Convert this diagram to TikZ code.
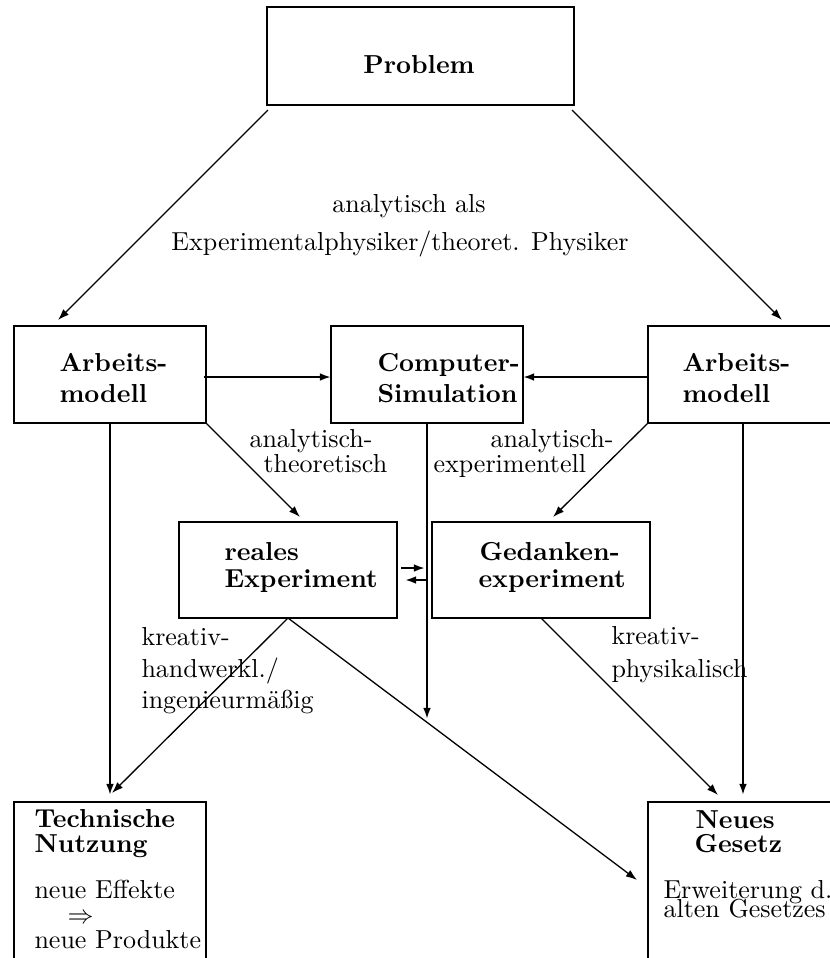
\documentclass[tikz,border=0pt]{standalone}
\usepackage{fontspec}
\usetikzlibrary{arrows.meta,calc,fit}
\begin{document}
\begin{tikzpicture}[x=0.3846pt,y=-0.3846pt,
  box/.style={draw,line width=0.8pt,inner sep=0pt,outer sep=0pt,rectangle},
  txt/.style={inner sep=0pt,anchor=base west},
  btxt/.style={txt,font=\bfseries},
  tipped/.style={-{Latex[length=4.3pt,width=3pt]}},
  straight/.style={tipped,line width=0.8pt},
  slant/.style={tipped,line width=0.5pt}]
\useasboundingbox (0,0) rectangle (830,958);
\begin{scope}
\clip (0,0) rectangle (830,958);
% boxes
\node[box,fit={(267,7) (574,105)}] (prob) {};
\node[box,fit={(14,326) (206,423)}] (amL) {};
\node[box,fit={(331,326) (523,423)}] (cs) {};
\node[box,fit={(648,326) (870,423)}] (amR) {};
\node[box,fit={(179,522) (397,618)}] (reales) {};
\node[box,fit={(432,522) (650,618)}] (ged) {};
\node[box,fit={(14,802) (206,1000)}] (tn) {};
\node[box,fit={(648,802) (870,1000)}] (ng) {};
% texts
\node[btxt,anchor=base] (tprob) at (419,73) {Problem};
\node[txt,anchor=base] (l1a) at (409,212) {analytisch als};
\node[txt,anchor=base] (l1b) at (400,250) {Experimentalphysiker/theoret. Physiker};
\node[btxt] (amL1) at (59,371) {Arbeits-};
\node[btxt] (amL2) at (59,402) {modell};
\node[btxt] (cs1) at (377,371) {Computer-};
\node[btxt] (cs2) at (377,402) {Simulation};
\node[btxt] (amR1) at (682,371) {Arbeits-};
\node[btxt] (amR2) at (682,402) {modell};
\node[txt] (at1) at (249,447) {analytisch-};
\node[txt] (at2) at (263,472) {theoretisch};
\node[txt] (ae1) at (490,447) {analytisch-};
\node[txt] (ae2) at (433,472) {experimentell};
\node[btxt] (re1) at (224,560) {reales};
\node[btxt] (re2) at (224,587) {Experiment};
\node[btxt] (ge1) at (479,560) {Gedanken-};
\node[btxt] (ge2) at (478,587) {experiment};
\node[txt] (kh1) at (141,645) {kreativ-};
\node[txt] (kh2) at (141,677) {handwerkl./};
\node[txt] (kh3) at (141,708) {ingenieurmäßig};
\node[txt] (kp1) at (611,644) {kreativ-};
\node[txt] (kp2) at (611,677) {physikalisch};
\node[btxt] (tn1) at (34,827) {Technische};
\node[btxt] (tn2) at (34,852) {Nutzung};
\node[txt,anchor=north west,align=left] (tn3) at (34,880)
  {neue Effekte\\[-2.7pt]\hspace{12.7pt}$\Rightarrow$\\[-2.2pt]neue Produkte};
\node[btxt] (ng1) at (695,828) {Neues};
\node[btxt] (ng2) at (694,852) {Gesetz};
\node[txt,anchor=north west,align=left] (ng3) at (663,880)
  {Erweiterung d.\\[-4.9pt]alten Gesetzes};
% connectors
\draw[slant] ($(prob.south west)+(1,5)$) -- ($(amL.north west)+(44,-6)$);
\draw[slant] ($(prob.south east)+(-2,5)$) -- ($(amR.north west)+(134,-6)$);
\draw[straight] ($(amL.east)+(-2,2.5)$) -- ($(cs.west)+(0,2.5)$);
\draw[straight] ($(amR.west)+(0,2.5)$) -- ($(cs.east)+(0,2.5)$);
\draw[slant] (amL.south east) -- ($(reales.north west)+(121,-5)$);
\draw[slant] (amR.south west) -- ($(ged.north west)+(121,-5)$);
\draw[straight] (amL.south) -- ($(tn.north west)+(96,-7)$);
\coordinate (csend) at (427,719);
\draw[straight] (cs.south) -- (csend);
\draw[straight] ($(amR.south west)+(95,0)$) -- ($(ng.north west)+(95,-7)$);
\draw[slant] (reales.south) -- ($(tn.north west)+(98,-9)$);
\draw[slant] (reales.south) -- ($(ng.north west)+(-11,78)$);
\draw[slant] (ged.south) -- ($(ng.north west)+(70,-7)$);
\draw[straight] ($(reales.east)+(4,-2)$) -- ($(ged.west)+(-7,-2)$);
\draw[straight] ($(ged.west)+(-6,10)$) -- ($(reales.east)+(8,10)$);
\end{scope}
\end{tikzpicture}
\end{document}
